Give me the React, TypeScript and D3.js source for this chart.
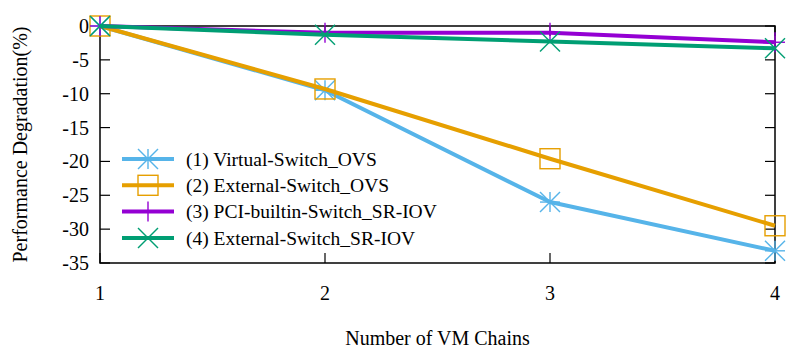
import React, { useEffect, useRef } from "react";
import * as d3 from "d3";

const chains = [1, 2, 3, 4];
const yTicks = [0, -5, -10, -15, -20, -25, -30, -35];
const seriesNames = [
  "(1) Virtual-Switch_OVS",
  "(2) External-Switch_OVS",
  "(3) PCI-builtin-Switch_SR-IOV",
  "(4) External-Switch_SR-IOV",
];
const virtualOvs = [0, -9.5, -26, -33.2];
const externalOvs = [0, -9.3, -19.6, -29.5];
const pciSriov = [0, -1.0, -1.0, -2.4];
const externalSriov = [0, -1.3, -2.3, -3.3];
const colors = ["#56B4E9", "#E69F00", "#9400D3", "#009E73"];
const markers = ["asterisk", "square", "plus", "cross"];

const W = 800;
const H = 353;
const margin = { top: 26, right: 25, bottom: 90, left: 100 };

function drawMarker(g: any, kind: string, x: number, y: number, color: string) {
  const r = 10;
  const s = g.append("g").attr("transform", `translate(${x},${y})`)
    .attr("stroke", color).attr("stroke-width", 1.4).attr("fill", "none");
  if (kind === "square") {
    s.append("rect").attr("x", -r).attr("y", -r).attr("width", 2 * r).attr("height", 2 * r);
  }
  if (kind === "plus" || kind === "asterisk") {
    s.append("line").attr("x1", -r).attr("x2", r).attr("y1", 0).attr("y2", 0);
    s.append("line").attr("x1", 0).attr("x2", 0).attr("y1", -r).attr("y2", r);
  }
  if (kind === "cross" || kind === "asterisk") {
    s.append("line").attr("x1", -r).attr("x2", r).attr("y1", -r).attr("y2", r);
    s.append("line").attr("x1", -r).attr("x2", r).attr("y1", r).attr("y2", -r);
  }
}

export default function App() {
  const ref = useRef<SVGSVGElement>(null);

  useEffect(() => {
    const svg = d3.select(ref.current);
    svg.selectAll("*").remove();

    const x = d3.scaleLinear().domain([1, 4]).range([margin.left, W - margin.right]);
    const y = d3.scaleLinear().domain([-35, 0]).range([H - margin.bottom, margin.top]);
    const font = "Liberation Serif";

    // frame
    svg.append("rect")
      .attr("x", x(1)).attr("y", y(0))
      .attr("width", x(4) - x(1)).attr("height", y(-35) - y(0))
      .attr("fill", "none").attr("stroke", "#000").attr("stroke-width", 1.5);

    const tl = 10;
    yTicks.forEach((t) => {
      svg.append("line").attr("x1", x(1)).attr("x2", x(1) + tl)
        .attr("y1", y(t)).attr("y2", y(t)).attr("stroke", "#000").attr("stroke-width", 1.2);
      svg.append("line").attr("x1", x(4)).attr("x2", x(4) - tl)
        .attr("y1", y(t)).attr("y2", y(t)).attr("stroke", "#000").attr("stroke-width", 1.2);
      svg.append("text").attr("x", x(1) - 11).attr("y", y(t))
        .attr("dy", "0.35em").attr("text-anchor", "end")
        .style("font-family", font).style("font-size", "20px").text(t);
    });
    chains.forEach((c) => {
      svg.append("line").attr("x1", x(c)).attr("x2", x(c))
        .attr("y1", y(-35)).attr("y2", y(-35) - tl).attr("stroke", "#000").attr("stroke-width", 1.2);
      svg.append("line").attr("x1", x(c)).attr("x2", x(c))
        .attr("y1", y(0)).attr("y2", y(0) + tl).attr("stroke", "#000").attr("stroke-width", 1.2);
      svg.append("text").attr("x", x(c)).attr("y", y(-35) + 30)
        .attr("dy", "0.35em").attr("text-anchor", "middle")
        .style("font-family", font).style("font-size", "20px").text(c);
    });

    svg.append("text").attr("x", (x(1) + x(4)) / 2).attr("y", 338)
      .attr("dy", "0.35em").attr("text-anchor", "middle")
      .style("font-family", font).style("font-size", "20px").text("Number of VM Chains");
    svg.append("text")
      .attr("transform", `translate(20,${(y(0) + y(-35)) / 2}) rotate(-90)`)
      .attr("dy", "0.35em").attr("text-anchor", "middle")
      .style("font-family", font).style("font-size", "20px").text("Performance Degradation(%)");

    const all = [virtualOvs, externalOvs, pciSriov, externalSriov];
    const line = d3.line<number>().x((_, i) => x(chains[i])).y((d) => y(d));

    all.forEach((vals, k) => {
      svg.append("path").attr("d", line(vals)).attr("fill", "none")
        .attr("stroke", colors[k]).attr("stroke-width", 4).attr("stroke-linejoin", "round");
      vals.forEach((v, i) => drawMarker(svg, markers[k], x(chains[i]), y(v), colors[k]));
    });

    // legend
    const lx = 122;
    const ly = 159;
    seriesNames.forEach((name, k) => {
      const yy = ly + k * 26.3;
      svg.append("line").attr("x1", lx).attr("x2", lx + 52).attr("y1", yy).attr("y2", yy)
        .attr("stroke", colors[k]).attr("stroke-width", 4);
      drawMarker(svg, markers[k], lx + 26, yy, colors[k]);
      svg.append("text").attr("x", 186).attr("y", yy).attr("dy", "0.35em")
        .style("font-family", font).style("font-size", "19.5px").text(name);
    });
  }, []);

  return <svg ref={ref} width={W} height={H} style={{ position: "absolute", left: 0, top: 0, background: "#fff" }} />;
}
